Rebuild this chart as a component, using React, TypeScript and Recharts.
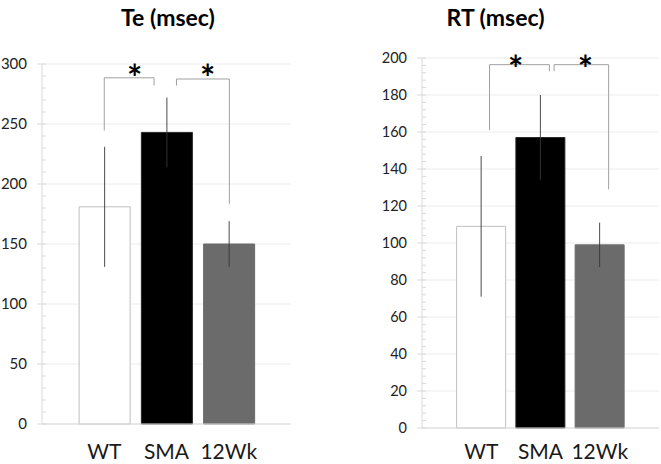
import React from "react";
import {
	Bar,
	BarChart,
	CartesianGrid,
	Cell,
	ErrorBar,
	ReferenceDot,
	ReferenceLine,
	XAxis,
	YAxis,
} from "recharts";

const groups = ["WT", "SMA", "12Wk"];
const barColors = ["#ffffff", "#000000", "#6b6b6b"];

const teMean = [181, 243, 150];
const teSd = [50, 29, 19];
const teMajor = [0, 50, 100, 150, 200, 250, 300];

const rtMean = [109, 157, 99];
const rtSd = [38, 23, 12];
const rtMajor = [0, 20, 40, 60, 80, 100, 120, 140, 160, 180, 200];

// significance brackets, in data units (x = group index, y = axis value)
const teBrackets = [
	{ x1: 0, x2: 0.8, y: 288.5, foot1: 244.5, foot2: 282, starX: 0.49 },
	{ x1: 1.16, x2: 2.01, y: 287.5, foot1: 282, foot2: 183.5, starX: 1.66 },
];
const teStarY = 297;

const rtBrackets = [
	{ x1: 0.14, x2: 1.15, y: 196.4, foot1: 161, foot2: 192.8, starX: 0.58 },
	{ x1: 1.23, x2: 2.15, y: 196.4, foot1: 192.8, foot2: 129, starX: 1.76 },
];
const rtStarY = 199.5;

const font = "Lato, 'Open Sans', sans-serif";
const axisGrey = "#d9d9d9";

type Bracket = {
	x1: number;
	x2: number;
	y: number;
	foot1: number;
	foot2: number;
	starX: number;
};

const Panel = ({
	title,
	mean,
	sd,
	major,
	minorStep,
	brackets,
	starY,
	left,
	width,
	margin,
	barSize,
	labelSize,
	xLabelGap,
	xAxisHeight,
	titleShift,
}: {
	title: string;
	mean: number[];
	sd: number[];
	major: number[];
	minorStep: number;
	brackets: Bracket[];
	starY: number;
	left: number;
	width: number;
	margin: { top: number; right: number; left: number; bottom: number };
	barSize: number;
	labelSize: number;
	xLabelGap: number;
	xAxisHeight: number;
	titleShift: number;
}) => {
	const data = groups.map((g, i) => ({ i, name: g, v: mean[i], err: sd[i] }));
	const top = major[major.length - 1];
	const step = major[1] - major[0];
	const ticks: number[] = [];
	for (let t = 0; t <= top; t += minorStep) ticks.push(t);

	const YTick = (p: any) => {
		const val = p.payload.value;
		const isMajor = val % step === 0;
		return (
			<g>
				<line
					x1={isMajor ? p.x - 5 : p.x}
					x2={p.x + 4}
					y1={p.y}
					y2={p.y}
					stroke={axisGrey}
				/>
				{isMajor && (
					<text
						x={p.x - 15}
						y={p.y}
						dy="0.36em"
						textAnchor="end"
						fontSize={labelSize}
						fontFamily={font}
						fill="#222"
					>
						{val}
					</text>
				)}
			</g>
		);
	};

	return (
		<div style={{ position: "absolute", left, top: 0 }}>
			<BarChart width={width} height={464} data={data} margin={margin}>
				<CartesianGrid
					vertical={false}
					horizontalValues={major}
					stroke="#ececec"
				/>
				<XAxis
					dataKey="i"
					type="number"
					domain={[-1, 3]}
					ticks={[0, 1, 2]}
					tickFormatter={(v) => groups[v]}
					tickLine={false}
					tickSize={0}
					tickMargin={xLabelGap}
					height={xAxisHeight}
					axisLine={{ stroke: axisGrey }}
					tick={{ fontSize: 21, fontFamily: font, fill: "#1a1a1a" }}
				/>
				<YAxis
					type="number"
					domain={[0, top]}
					ticks={ticks}
					interval={0}
					width={42}
					tickSize={0}
					tickMargin={0}
					tickLine={false}
					axisLine={{ stroke: axisGrey }}
					tick={YTick}
				/>
				<Bar dataKey="v" barSize={barSize} isAnimationActive={false}>
					{data.map((d, idx) => (
						<Cell
							key={idx}
							fill={barColors[idx]}
							stroke={idx === 0 ? "#bfbfbf" : idx === 1 ? "#262626" : barColors[idx]}
						/>
					))}
					<ErrorBar
						dataKey="err"
						width={0}
						stroke="#363636"
						strokeWidth={0.9}
						direction="y"
						isAnimationActive={false}
					/>
				</Bar>
				{brackets.map((b, k) => [
					<ReferenceLine
						key={`h${k}`}
						segment={[
							{ x: b.x1, y: b.y },
							{ x: b.x2, y: b.y },
						]}
						stroke="#a0a0a0"
					/>,
					<ReferenceLine
						key={`l${k}`}
						segment={[
							{ x: b.x1, y: b.y },
							{ x: b.x1, y: b.foot1 },
						]}
						stroke="#a0a0a0"
					/>,
					<ReferenceLine
						key={`r${k}`}
						segment={[
							{ x: b.x2, y: b.y },
							{ x: b.x2, y: b.foot2 },
						]}
						stroke="#a0a0a0"
					/>,
					<ReferenceDot
						key={`s${k}`}
						x={b.starX}
						y={starY}
						r={0}
						shape={(p: any) => (
							<text
								x={p.cx}
								y={p.cy}
								dy="0.64em"
								textAnchor="middle"
								fontSize={36}
								fontFamily={font}
								fontWeight={700}
								fill="#000"
							>
								*
							</text>
						)}
					/>,
				])}
			</BarChart>
			<div
				style={{
					position: "absolute",
					top: 3,
					left: 0,
					width,
					textAlign: "center",
					paddingLeft: titleShift,
					boxSizing: "border-box",
					fontFamily: font,
					fontWeight: 700,
					fontSize: 23,
					color: "#000",
				}}
			>
				{title}
			</div>
		</div>
	);
};

export default function App() {
	return (
		<div
			style={{
				position: "absolute",
				left: 0,
				top: 0,
				width: 661,
				height: 464,
				background: "#fff",
				overflow: "hidden",
			}}
		>
			<Panel
				title="Te (msec)"
				mean={teMean}
				sd={teSd}
				major={teMajor}
				minorStep={10}
				brackets={teBrackets}
				starY={teStarY}
				left={0}
				width={300}
				margin={{ top: 64, right: 9, left: 0, bottom: 0 }}
				barSize={51}
				labelSize={15}
				xLabelGap={20}
				xAxisHeight={40}
				titleShift={36}
			/>
			<Panel
				title="RT (msec)"
				mean={rtMean}
				sd={rtSd}
				major={rtMajor}
				minorStep={4}
				brackets={rtBrackets}
				starY={rtStarY}
				left={330}
				width={331}
				margin={{ top: 58, right: 2, left: 50, bottom: 0 }}
				barSize={49}
				labelSize={14.5}
				xLabelGap={16}
				xAxisHeight={36}
				titleShift={0}
			/>
		</div>
	);
}
